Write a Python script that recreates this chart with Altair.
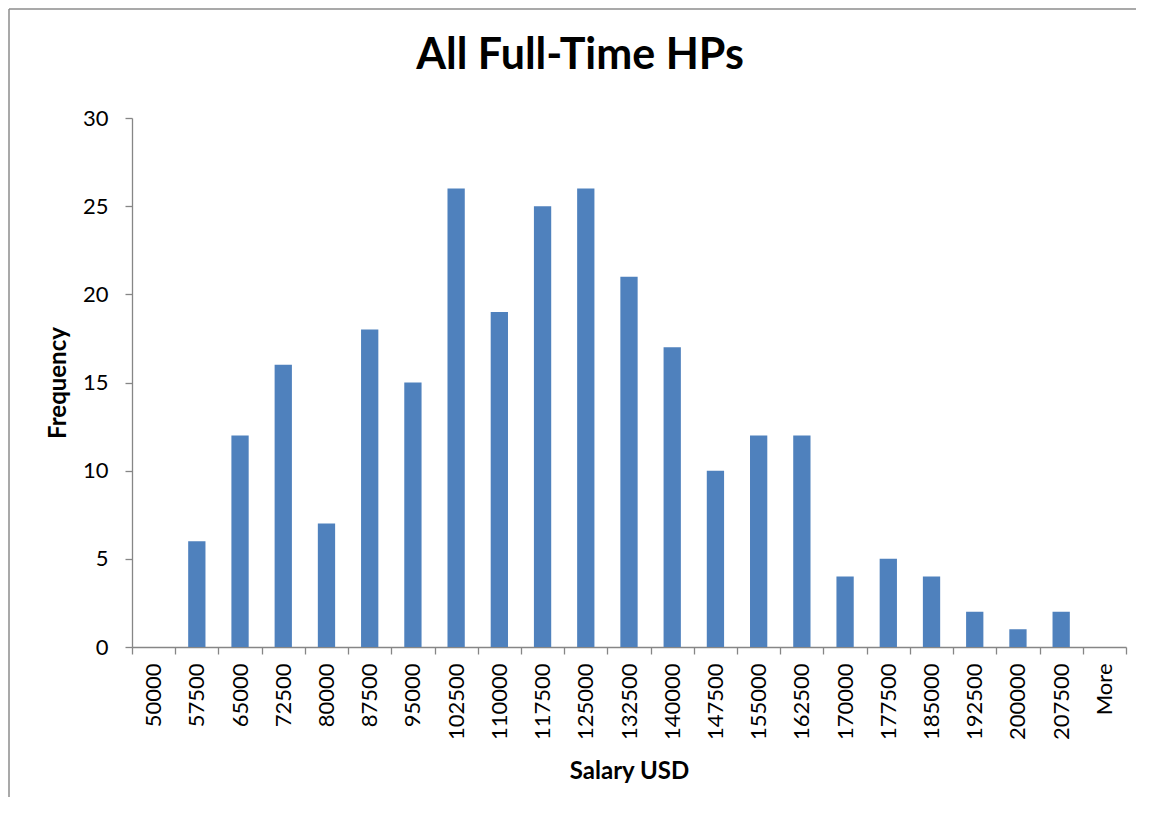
import altair as alt
import pandas as pd

categories = ["50000", "57500", "65000", "72500", "80000", "87500", "95000",
              "102500", "110000", "117500", "125000", "132500", "140000",
              "147500", "155000", "162500", "170000", "177500", "185000",
              "192500", "200000", "207500", "More"]
frequency = [0, 6, 12, 16, 7, 18, 15, 26, 19, 25, 26, 21, 17, 10, 12, 12,
             4, 5, 4, 2, 1, 2, 0]
y_ticks = [0, 5, 10, 15, 20, 25, 30]

df = pd.DataFrame({"bin": categories, "freq": frequency})

FONT = "Lato"
AXIS_GRAY = "#868686"
W, H = 994, 529

bars = alt.Chart(df).mark_bar(color="#4F81BD", width=alt.RelativeBandSize(0.4)).encode(
    x=alt.X("bin:N", sort=categories,
            scale=alt.Scale(paddingInner=0, paddingOuter=0),
            axis=alt.Axis(title="Salary USD", labelAngle=270, labelAlign="right",
                          labelBaseline="middle", labelPadding=9, labelFontSize=22,
                          labelFont=FONT, labelColor="black", tickBand="extent",
                          tickSize=7, tickColor=AXIS_GRAY, tickWidth=1.3,
                          domainColor=AXIS_GRAY, domainWidth=1.3, grid=False,
                          titleFont=FONT, titleFontSize=24, titleFontWeight="bold",
                          titleColor="black", titleY=124, titleX=W / 2,
                          titleAlign="center", titleBaseline="middle")),
    y=alt.Y("freq:Q", scale=alt.Scale(domain=[0, 30], nice=False),
            axis=alt.Axis(title="Frequency", values=y_ticks, grid=False,
                          labelFontSize=22, labelFont=FONT, labelColor="black",
                          labelPadding=17, tickSize=7, tickColor=AXIS_GRAY,
                          tickWidth=1.3, domainColor=AXIS_GRAY, domainWidth=1.3,
                          titleFont=FONT, titleFontSize=24, titleFontWeight="bold",
                          titleColor="black", titleAngle=270, titleX=-74,
                          titleY=H / 2, titleAlign="center",
                          titleBaseline="middle")),
)

frame_data = alt.Data(values=[{"k": 1}])
frame_left = alt.Chart(frame_data).mark_rule(color="#8C8C8C", strokeWidth=1.5).encode(
    x=alt.value(-123), y=alt.value(-109), y2=alt.value(H + 160)
)
frame_top = alt.Chart(frame_data).mark_rule(color="#8C8C8C", strokeWidth=1.5).encode(
    x=alt.value(-123), x2=alt.value(W + 20), y=alt.value(-109)
)

chart = alt.layer(frame_left, frame_top, bars).properties(
    width=W, height=H,
    view=alt.ViewBackground(strokeWidth=0, strokeOpacity=0),
    title=alt.TitleParams("All Full-Time HPs", font=FONT, fontSize=43,
                          fontWeight="bold", color="black", anchor="middle",
                          dx=-49, offset=-70),
    autosize="none",
    padding={"left": 124, "top": 110, "right": 10, "bottom": 150},
).configure_view(stroke="transparent", strokeWidth=0, strokeOpacity=0).configure(
    background="white")

chart.save("out.html", embed_options={"renderer": "svg", "actions": False})
